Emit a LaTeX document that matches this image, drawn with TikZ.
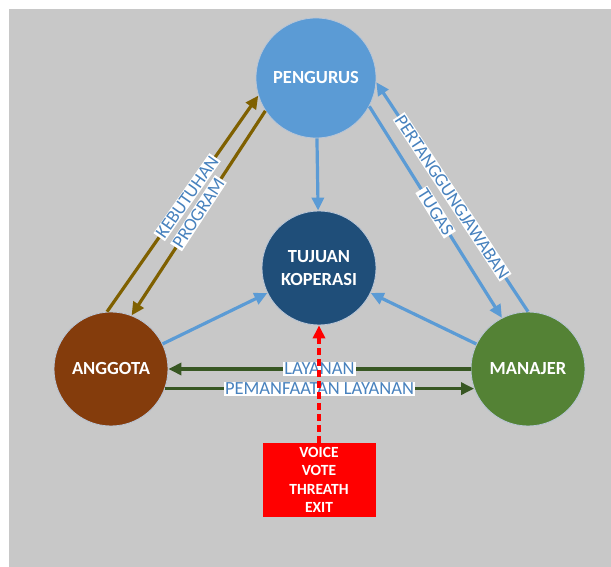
\documentclass[tikz,border=0pt]{standalone}
\usepackage{fontspec}
\setmainfont{Carlito}
\usetikzlibrary{arrows.meta,positioning}

\definecolor{bgray}{RGB}{200,200,200}
\definecolor{cpengurus}{RGB}{91,155,213}
\definecolor{ctujuan}{RGB}{31,78,121}
\definecolor{canggota}{RGB}{132,60,12}
\definecolor{cmanajer}{RGB}{84,130,53}
\definecolor{cbrown}{RGB}{127,96,0}
\definecolor{cgreen}{RGB}{56,87,35}
\definecolor{ctext}{RGB}{72,130,190}
\definecolor{cglow}{RGB}{185,198,215}

\begin{document}
\begin{tikzpicture}[%
        x=1pt, y=1pt,
        >={Triangle[length=13pt,width=12pt]},
        on grid,
        state/.style={circle, minimum size=114pt, inner sep=0pt,
            draw=cglow, line width=0.8pt,
            text=white, align=center,
            font=\bfseries\fontsize{18.5}{23}\selectfont},
        lbl/.style={fill=white, inner sep=1pt, text=ctext,
            font=\fontsize{18.5}{19}\selectfont},
        flow/.style={line width=3.2pt}
        ]
        \useasboundingbox (0,0) rectangle (611,567);
        \fill[bgray] (9,0) rectangle (611,558);

        \node[state, fill=ctujuan] (tujuan) at (319,299) {TUJUAN\\KOPERASI};
        \node[state, fill=cpengurus, minimum size=120pt] (pengurus) [above=190pt of tujuan, xshift=-3pt] {PENGURUS};
        \node[state, fill=canggota] (anggota) [below left=101pt and 208pt of tujuan] {ANGGOTA};
        \node[state, fill=cmanajer] (manajer) [right=417pt of anggota] {MANAJER};
        \node[fill=red, minimum width=113pt, minimum height=74pt, text=white, align=center,
            font=\bfseries\fontsize{15.5}{18.3}\selectfont] (voice) [below=212pt of tujuan] {VOICE\\VOTE\\THREATH\\EXIT};

        % pengurus - anggota
        \path[->, flow, cbrown] (anggota.94) edge node[lbl, sloped, pos=0.53] {KEBUTUHAN} (pengurus.197);
        \path[->, flow, cbrown] (pengurus.213) edge node[lbl, sloped] {PROGRAM} (anggota.69);

        % pengurus - manajer
        \path[->, flow, cpengurus] (pengurus.332) edge node[lbl, sloped] {TUGAS} (manajer.117);
        \path[->, flow, cpengurus] (manajer.90) edge node[lbl, sloped] {PERTANGGUNGJAWABAN} (pengurus.356);

        % into tujuan
        \path[->, flow, cpengurus] (pengurus) edge (tujuan);
        \path[->, flow, cpengurus] (anggota) edge (tujuan);
        \path[->, flow, cpengurus] (manajer) edge (tujuan);

        % anggota - manajer
        \path[->, flow, cgreen] (manajer.180) edge node[lbl] {LAYANAN} (anggota.0);
        \path[->, flow, cgreen] (anggota.-20) edge node[lbl] {PEMANFAATAN LAYANAN} (manajer.200);

        % voice
        \draw[->, flow, red, dash pattern=on 7pt off 4pt] (voice) -- (tujuan);
\end{tikzpicture}
\end{document}
